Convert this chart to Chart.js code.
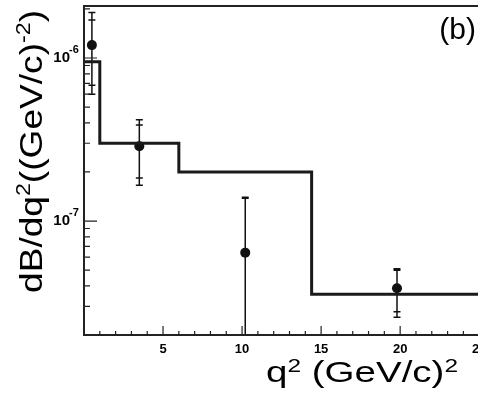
<html>
<head>
<title>dB/dq2 spectrum</title>
<script src="https://cdn.jsdelivr.net/npm/chart.js"></script>
<style>
  html, body { margin: 0; padding: 0; background: #fff; overflow: hidden; }
  canvas { display: block; }
</style>
</head>
<body>
<canvas id="chart" width="500" height="395"></canvas>
<script>
// measured points (q2 in (GeV/c)^2, dB/dq2)
const q2Points = [0.5, 3.5, 10.2, 19.8];
const bfValues = [1.2e-6, 2.88e-7, 6.4e-8, 3.87e-8];
const statUp = [1.71e-6, 3.88e-7, 1.38e-7, 5.0e-8];
const statDown = [6.8e-7, 1.84e-7, 1e-8, 2.78e-8];
const totUp = [1.90e-6, 4.18e-7, 1.40e-7, 5.1e-8];
const totDown = [6.0e-7, 1.66e-7, 1e-8, 2.57e-8];

// model histogram
const binEdges = [0, 1, 6, 14.4, 26];
const binValues = [9.5e-7, 3.0e-7, 2.0e-7, 3.55e-8];

// axis labels
const xTickLabels = [5, 10, 15, 20, 25];
const yTickExponents = [-7, -6];

const FONT = '"Liberation Sans", Arial, sans-serif';
const INK = '#111';

var histData = binValues.map(function (v, i) { return { x: binEdges[i], y: v }; });
histData.push({ x: binEdges[binEdges.length - 1], y: binValues[binValues.length - 1] });
var pointData = q2Points.map(function (q, i) { return { x: q, y: bfValues[i] }; });

// draw a run of text pieces (with superscripts), stretched to a given length
function drawRun(ctx, segs, width) {
  var natural = 0;
  segs.forEach(function (s) {
    ctx.font = (s.bold ? 'bold ' : '') + s.size + 'px ' + FONT;
    s.w = ctx.measureText(s.t).width;
    natural += s.w;
  });
  ctx.scale(width / natural, 1);
  var x = 0;
  segs.forEach(function (s) {
    ctx.font = (s.bold ? 'bold ' : '') + s.size + 'px ' + FONT;
    ctx.fillText(s.t, x, -(s.rise || 0));
    x += s.w;
  });
}

const errorBars = {
  id: 'errorBars',
  beforeDatasetsDraw(chart) {
    var ctx = chart.ctx, xs = chart.scales.x, ys = chart.scales.y, a = chart.chartArea;
    ctx.save();
    ctx.beginPath();
    ctx.rect(a.left, a.top, a.right - a.left, a.bottom - a.top);
    ctx.clip();
    ctx.strokeStyle = INK;
    ctx.lineWidth = 1.5;
    q2Points.forEach(function (q, i) {
      var px = xs.getPixelForValue(q);
      var tU = ys.getPixelForValue(totUp[i]), tD = ys.getPixelForValue(totDown[i]);
      var sU = ys.getPixelForValue(statUp[i]), sD = ys.getPixelForValue(statDown[i]);
      ctx.beginPath();
      ctx.moveTo(px, tU); ctx.lineTo(px, tD);
      [tU, tD, sU, sD].forEach(function (py) {
        ctx.moveTo(px - 3.5, py); ctx.lineTo(px + 3.5, py);
      });
      ctx.stroke();
    });
    ctx.restore();
  }
};

const frame = {
  id: 'frame',
  afterDraw(chart) {
    var ctx = chart.ctx, xs = chart.scales.x, ys = chart.scales.y, a = chart.chartArea;
    ctx.save();
    ctx.strokeStyle = '#222';
    ctx.lineWidth = 2;
    ctx.beginPath();
    ctx.moveTo(a.right + 5, a.top); ctx.lineTo(a.left, a.top);
    ctx.lineTo(a.left, a.bottom); ctx.lineTo(a.right + 5, a.bottom);
    ctx.stroke();

    // x ticks, inside, every 1 unit
    ctx.lineWidth = 1.2;
    ctx.beginPath();
    for (var v = 1; v <= xs.max; v++) {
      var px = xs.getPixelForValue(v);
      var len = v % 5 === 0 ? 9 : 4;
      ctx.moveTo(px, a.bottom); ctx.lineTo(px, a.bottom - len);
    }
    // y ticks, log minors
    for (var e = -8; e <= -6; e++) {
      for (var m = 1; m <= 9; m++) {
        var val = m * Math.pow(10, e);
        if (val < ys.min || val > ys.max) continue;
        var py = ys.getPixelForValue(val);
        ctx.moveTo(a.left, py); ctx.lineTo(a.left + (m === 1 ? 13 : 6), py);
      }
    }
    ctx.stroke();

    ctx.fillStyle = '#000';
    ctx.textBaseline = 'alphabetic';
    // x tick labels
    ctx.font = 'bold 13px ' + FONT;
    ctx.textAlign = 'center';
    xTickLabels.forEach(function (t) {
      ctx.fillText(String(t), xs.getPixelForValue(t), a.bottom + 18);
    });
    // y tick labels 10^n
    yTickExponents.forEach(function (n) {
      var py = ys.getPixelForValue(Math.pow(10, n));
      ctx.font = 'bold 15px ' + FONT;
      ctx.textAlign = 'right';
      ctx.fillText('10', a.left - 14, py + 4);
      ctx.font = 'bold 11px ' + FONT;
      ctx.textAlign = 'left';
      ctx.fillText(String(n), a.left - 15, py - 5);
    });

    // panel tag
    ctx.font = '30px ' + FONT;
    ctx.textAlign = 'right';
    ctx.fillText('(b)', 476, 39);

    // x title
    ctx.textAlign = 'left';
    ctx.save();
    ctx.translate(266, 382);
    drawRun(ctx, [
      { t: 'q', size: 30 },
      { t: '2', size: 19, rise: 10 },
      { t: ' (GeV/c)', size: 30 },
      { t: '2', size: 19, rise: 10 }
    ], 192);
    ctx.restore();

    // y title
    ctx.save();
    ctx.translate(42, 293);
    ctx.rotate(-Math.PI / 2);
    drawRun(ctx, [
      { t: 'dB/dq', size: 32 },
      { t: '2', size: 20, rise: 12 },
      { t: '((GeV/c)', size: 32 },
      { t: '-2', size: 20, rise: 12 },
      { t: ')', size: 32 }
    ], 283);
    ctx.restore();
    ctx.restore();
  }
};

new Chart(document.getElementById('chart'), {
  data: {
    datasets: [
      {
        type: 'line',
        data: histData,
        stepped: 'before',
        borderColor: '#1a1a1a',
        borderWidth: 3,
        pointRadius: 0,
        fill: false
      },
      {
        type: 'scatter',
        data: pointData,
        pointRadius: 5,
        backgroundColor: INK,
        borderColor: INK,
        borderWidth: 0
      }
    ]
  },
  options: {
    responsive: false,
    devicePixelRatio: 1,
    animation: false,
    layout: { padding: { left: 84, right: 5, top: 6, bottom: 60 } },
    plugins: { legend: { display: false }, tooltip: { enabled: false } },
    scales: {
      x: { type: 'linear', min: 0, max: 26, display: false },
      y: { type: 'logarithmic', min: 2e-8, max: 2.085e-6, display: false }
    }
  },
  plugins: [errorBars, frame]
});
</script>
</body>
</html>
